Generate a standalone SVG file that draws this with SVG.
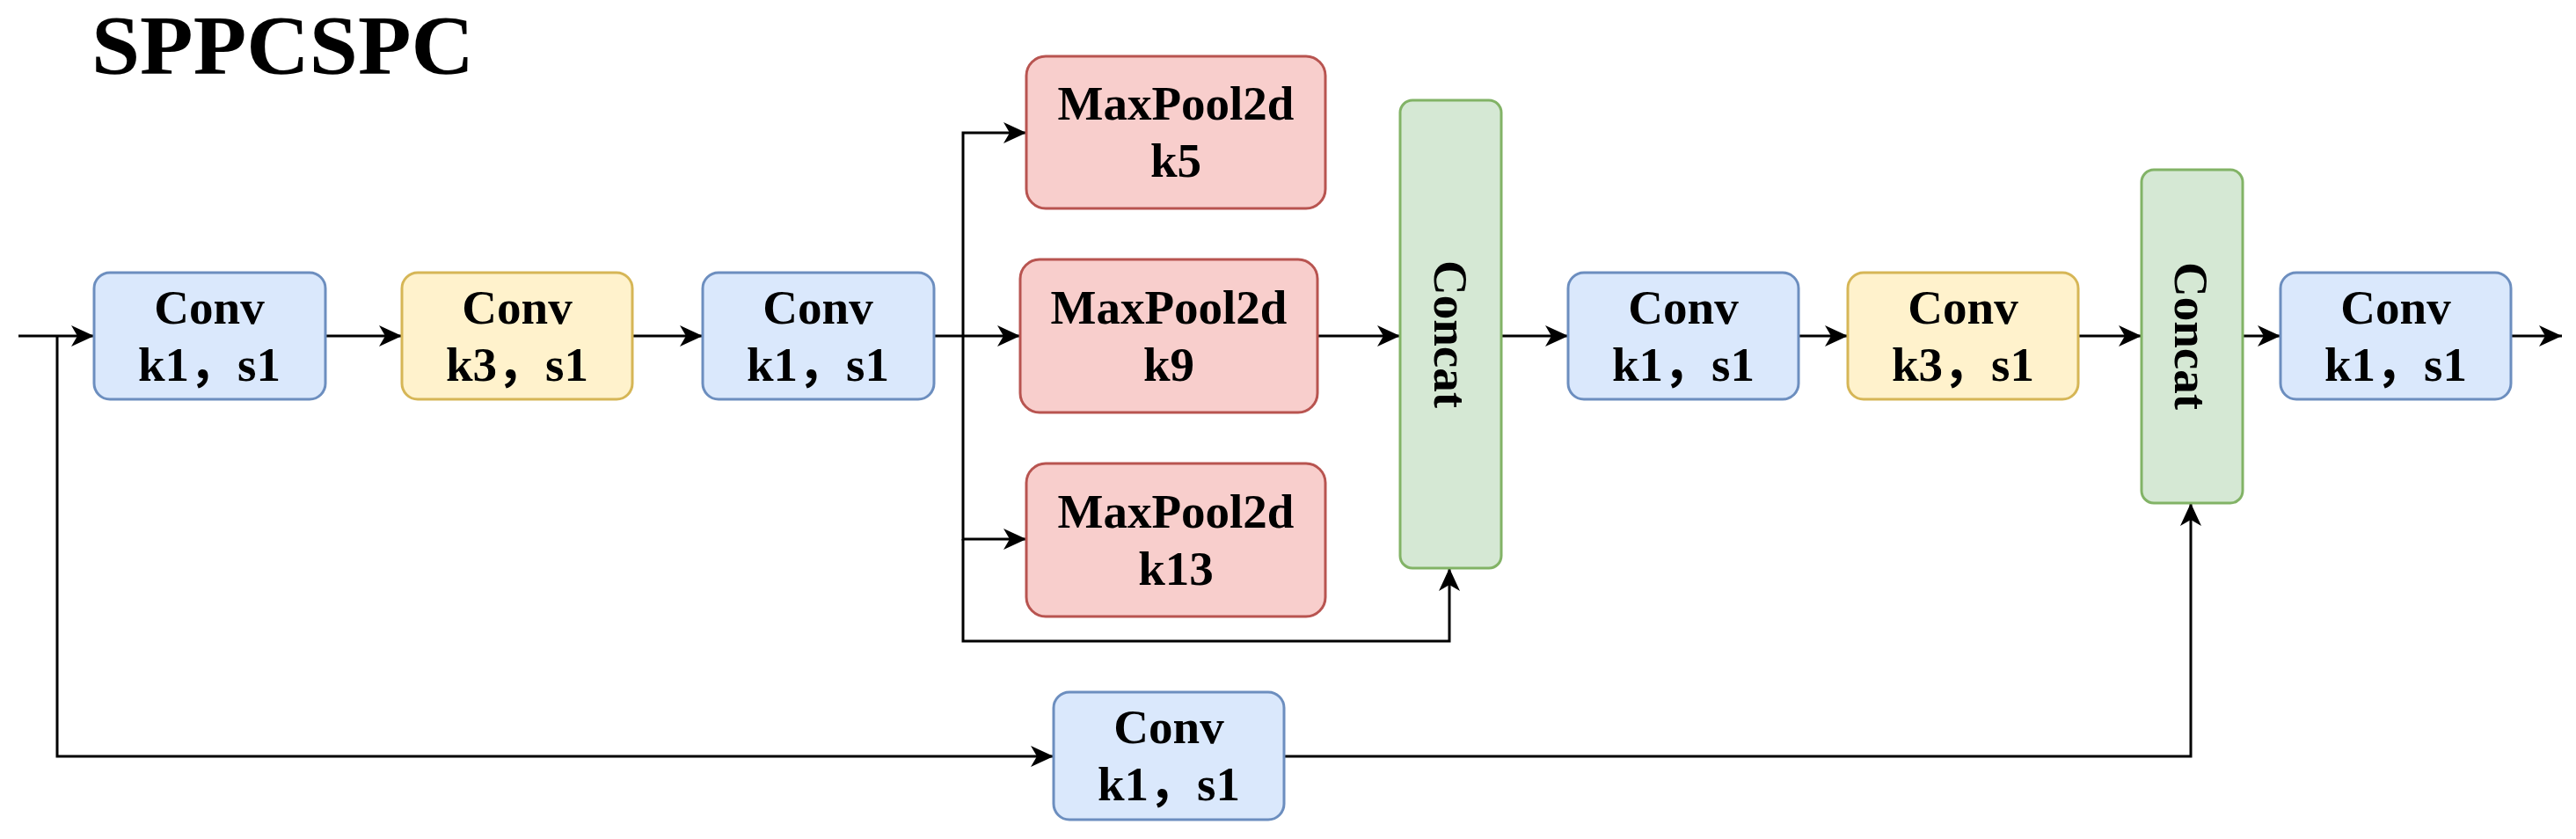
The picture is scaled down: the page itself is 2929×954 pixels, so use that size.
<svg xmlns="http://www.w3.org/2000/svg" width="2929" height="954" viewBox="0 0 2929 954">
<defs>
<marker id="ar" markerUnits="userSpaceOnUse" markerWidth="28" markerHeight="28" viewBox="0 0 28 28" refX="26" refY="14" orient="auto">
<path d="M0,2 L26,14 L0,26 L7,14 Z" fill="#000"/>
</marker>
</defs>
<style>
.c{stroke:#000;stroke-width:3;fill:none}
.a{marker-end:url(#ar)}
.t{font-family:"Liberation Serif","Noto Sans CJK SC",serif;font-weight:bold;font-size:55px;text-anchor:middle;fill:#000}
.b{fill:#dae8fc;stroke:#6c8ebf;stroke-width:3}
.y{fill:#fff2cc;stroke:#d6b656;stroke-width:3}
.r{fill:#f8cecc;stroke:#b85450;stroke-width:3}
.g{fill:#d5e8d4;stroke:#82b366;stroke-width:3}
</style>
<rect width="2929" height="954" fill="#fff"/>
<text x="104" y="84" style="font-family:'Liberation Serif',serif;font-weight:bold;font-size:96px" textLength="435" lengthAdjust="spacingAndGlyphs">SPPCSPC</text>
<g id="connectors">
<path class="c a" d="M21,382 H107"/>
<path class="c a" d="M370,382 H457"/>
<path class="c a" d="M719,382 H799"/>
<path class="c a" d="M1062,382 H1160"/>
<path class="c a" d="M1095,382 V151 H1167"/>
<path class="c a" d="M1095,382 V613 H1167"/>
<path class="c a" d="M1095,613 V729 H1648 V646"/>
<path class="c a" d="M1498,382 H1592"/>
<path class="c a" d="M1707,382 H1783"/>
<path class="c a" d="M2045,382 H2101"/>
<path class="c a" d="M2363,382 H2435"/>
<path class="c a" d="M2550,382 H2593"/>
<path class="c a" d="M2855,382 H2913"/>
<path class="c a" d="M65,382 V860 H1198"/>
<path class="c a" d="M1460,860 H2491 V572"/>
</g>
<g id="conv1"><rect class="b" x="107" y="310" width="263" height="144" rx="18"/><text class="t" x="238" y="368">Conv</text><text class="t" x="238" y="433">k1，s1</text></g>
<g id="conv2"><rect class="y" x="457" y="310" width="262" height="144" rx="18"/><text class="t" x="588" y="368">Conv</text><text class="t" x="588" y="433">k3，s1</text></g>
<g id="conv3"><rect class="b" x="799" y="310" width="263" height="144" rx="18"/><text class="t" x="930" y="368">Conv</text><text class="t" x="930" y="433">k1，s1</text></g>
<g id="mp5"><rect class="r" x="1167" y="64" width="340" height="173" rx="22"/><text class="t" x="1337" y="136">MaxPool2d</text><text class="t" x="1337" y="201">k5</text></g>
<g id="mp9"><rect class="r" x="1160" y="295" width="338" height="174" rx="22"/><text class="t" x="1329" y="368">MaxPool2d</text><text class="t" x="1329" y="433">k9</text></g>
<g id="mp13"><rect class="r" x="1167" y="527" width="340" height="174" rx="22"/><text class="t" x="1337" y="600">MaxPool2d</text><text class="t" x="1337" y="665">k13</text></g>
<g id="concat1"><rect class="g" x="1592" y="114" width="115" height="532" rx="14"/><text class="t" transform="translate(1650,380) rotate(90)" y="19">Concat</text></g>
<g id="conv4"><rect class="b" x="1783" y="310" width="262" height="144" rx="18"/><text class="t" x="1914" y="368">Conv</text><text class="t" x="1914" y="433">k1，s1</text></g>
<g id="conv5"><rect class="y" x="2101" y="310" width="262" height="144" rx="18"/><text class="t" x="2232" y="368">Conv</text><text class="t" x="2232" y="433">k3，s1</text></g>
<g id="concat2"><rect class="g" x="2435" y="193" width="115" height="379" rx="14"/><text class="t" transform="translate(2492,382) rotate(90)" y="19">Concat</text></g>
<g id="conv6"><rect class="b" x="2593" y="310" width="262" height="144" rx="18"/><text class="t" x="2724" y="368">Conv</text><text class="t" x="2724" y="433">k1，s1</text></g>
<g id="conv7"><rect class="b" x="1198" y="787" width="262" height="145" rx="18"/><text class="t" x="1329" y="845">Conv</text><text class="t" x="1329" y="910">k1，s1</text></g>
</svg>
